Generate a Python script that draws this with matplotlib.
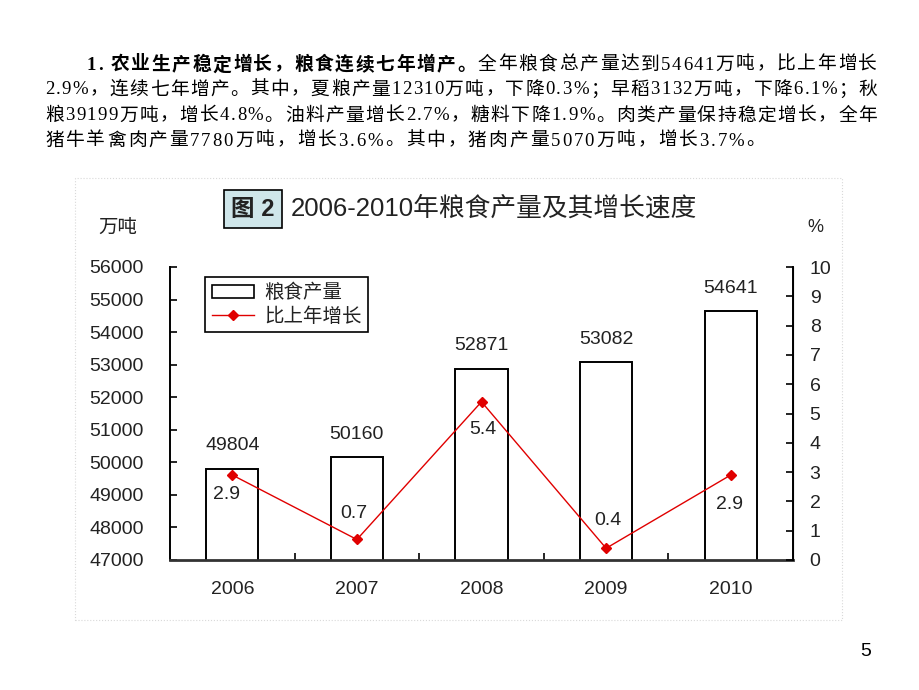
import matplotlib
matplotlib.use("Agg")
import matplotlib.pyplot as plt
from matplotlib.patches import Rectangle
from matplotlib.lines import Line2D
import numpy as np

plt.rcParams['font.family'] = ['Liberation Sans', 'Noto Sans CJK SC']

# data
years = ['2006', '2007', '2008', '2009', '2010']
output = [49804, 50160, 52871, 53082, 54641]   # 万吨
growth = [2.9, 0.7, 5.4, 0.4, 2.9]             # %
left_ticks = list(range(47000, 56001, 1000))
right_ticks = list(range(0, 11))
legend_labels = ['粮食产量', '比上年增长']

para_lines = [
    "1. 农业生产稳定增长，粮食连续七年增产。全年粮食总产量达到54641万吨，比上年增长",
    "2.9%，连续七年增产。其中，夏粮产量12310万吨，下降0.3%；早稻3132万吨，下降6.1%；秋",
    "粮39199万吨，增长4.8%。油料产量增长2.7%，糖料下降1.9%。肉类产量保持稳定增长，全年",
    "猪牛羊禽肉产量7780万吨，增长3.6%。其中，猪肉产量5070万吨，增长3.7%。",
]
n_bold = 21

W, H = 920, 690
fig = plt.figure(figsize=(W / 100, H / 100), dpi=100)
txt = '#222222'


def px(x, y):
    return x / W, 1 - y / H


# paragraph at the top, spread char by char between two x positions
renderer = fig.canvas.get_renderer()


def put_line(text, x0, x1, y, nbold=0):
    items = []
    for i, ch in enumerate(text):
        t = fig.text(0, 0, ch, fontsize=13.5, va='center', color='black',
                     family=['Liberation Serif', 'Noto Sans CJK SC'],
                     weight='bold' if i < nbold else 'normal')
        items.append((t, t.get_window_extent(renderer).width))
    total = sum(w for _, w in items)
    gap = (x1 - x0 - total) / (len(items) - 1)
    x = x0
    for t, w in items:
        t.set_position(px(x, y))
        x += w + gap


put_line(para_lines[0], 87, 877, 65, nbold=n_bold)
put_line(para_lines[1], 45, 877, 90)
put_line(para_lines[2], 45, 877, 116)
put_line(para_lines[3], 45, 765, 141)

# faint frame around the chart picture
fig.patches.append(Rectangle(px(75, 620), 767 / W, 442 / H, transform=fig.transFigure,
                             fill=False, edgecolor='#d9d9d9', linestyle=':', lw=0.8))

# title
fig.text(*px(253, 209), '图 2', ha='center', va='center', fontsize=17, weight='bold',
         color=txt, bbox=dict(boxstyle='square,pad=0.3', fc='#cfe6ea', ec='black', lw=1.2))
fig.text(*px(291, 208), '2006-2010年粮食产量及其增长速度', ha='left', va='center',
         fontsize=18.5, color=txt)
fig.text(*px(118, 228), '万吨', ha='center', va='center', fontsize=14, color=txt)
fig.text(*px(815, 228), '%', ha='center', va='center', fontsize=13, color=txt)

# axes
ax = fig.add_axes([170 / W, 1 - 560 / H, 623 / W, 293 / H])
x = np.arange(len(years))
ax.bar(x, output, width=0.42, color='white', edgecolor='black', linewidth=1.4, zorder=2)
ax.set_xlim(-0.5, 4.5)
ax.set_ylim(47000, 56000)
ax.set_yticks(left_ticks)
ax.tick_params(axis='y', direction='in', length=5, width=1.2, pad=19, labelsize=14, labelcolor=txt)
ax.set_xticks(x, years)
ax.tick_params(axis='x', length=0, pad=15, labelsize=14, labelcolor=txt)
ax.set_xticks([0.5, 1.5, 2.5, 3.5], minor=True)
ax.tick_params(axis='x', which='minor', direction='in', length=5, width=1.2)
ax.spines['top'].set_visible(False)
ax.spines['left'].set_linewidth(1.4)
ax.spines['bottom'].set_linewidth(2)
ax.spines['bottom'].set_color('#333333')

for i, v in enumerate(output):
    ax.annotate(str(v), (i, v), xytext=(0, 16.5), textcoords='offset points',
                ha='center', va='center', fontsize=14, color=txt)

ax2 = ax.twinx()
ax2.plot(x, growth, color='#e00000', lw=1, marker='D', ms=5.5, zorder=3)
ax2.set_ylim(0, 10)
ax2.set_yticks(right_ticks)
ax2.tick_params(axis='y', direction='in', length=5, width=1.2, pad=12, labelsize=14, labelcolor=txt)
ax2.spines['top'].set_visible(False)
ax2.spines['left'].set_visible(False)
ax2.spines['bottom'].set_visible(False)
ax2.spines['right'].set_linewidth(1.4)

growth_offsets = [(-4, -14), (-2, 19), (1, -20), (1, 20), (-1, -21)]
for i, v in enumerate(growth):
    ax2.annotate(f'{v:.1f}', (i, v), xytext=growth_offsets[i], textcoords='offset points',
                 ha='center', va='center', fontsize=14, color=txt)

handles = [Rectangle((0, 0), 1, 1, fc='white', ec='black', lw=1.2),
           Line2D([], [], color='#e00000', lw=1, marker='D', ms=5.5)]
leg = ax2.legend(handles, legend_labels, loc='upper left', bbox_to_anchor=(0.056, 0.966),
                 borderaxespad=0, fancybox=False, edgecolor='black', framealpha=1,
                 fontsize=14, handlelength=2.2, handletextpad=0.5, labelspacing=0.25,
                 borderpad=0.35)
leg.get_frame().set_linewidth(1.2)
for t in leg.get_texts():
    t.set_color(txt)

# page number
fig.text(*px(866, 652), '5', ha='center', va='center', fontsize=14, color='black')

fig.savefig('out.png', dpi=100)
